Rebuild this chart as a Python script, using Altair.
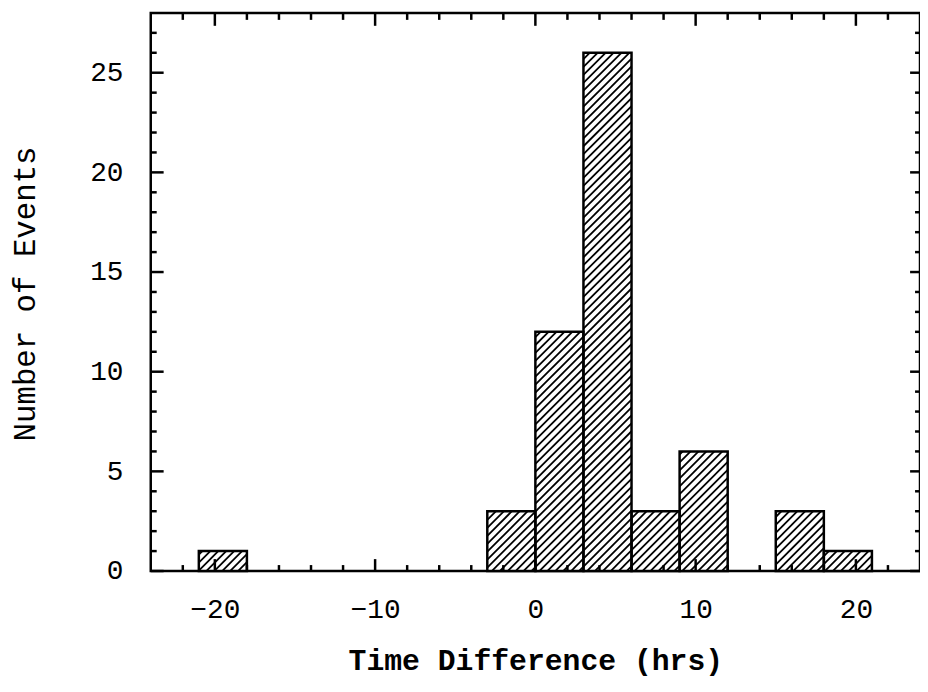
import altair as alt
import pandas as pd

# ---- data ----
bin_start = [-21, -3, 0, 3, 6, 9, 15, 18]
bin_end = [-18, 0, 3, 6, 9, 12, 18, 21]
counts = [1, 3, 12, 26, 3, 6, 3, 1]

x_major = [-20, -10, 0, 10, 20]
x_minor = [-22, -18, -16, -14, -12, -8, -6, -4, -2, 2, 4, 6, 8, 12, 14, 16, 18, 22]
y_major = [0, 5, 10, 15, 20, 25]
y_minor = [1, 2, 3, 4, 6, 7, 8, 9, 11, 12, 13, 14, 16, 17, 18, 19, 21, 22, 23, 24, 26, 27]

X_DOMAIN = [-24, 24]
Y_DOMAIN = [0, 28]
W, H = 776, 563
FONT = "Liberation Mono"

bars = pd.DataFrame({"x0": bin_start, "x1": bin_end, "n": counts})

# ---- hatch segments (45 degree lines clipped to each bar), derived from bar data ----
kx = W / (X_DOMAIN[1] - X_DOMAIN[0])
ky = H / (Y_DOMAIN[1] - Y_DOMAIN[0])
step = 8.0
rows = []
for x0, x1, n in zip(bin_start, bin_end, counts):
    px0 = (x0 - X_DOMAIN[0]) * kx
    px1 = (x1 - X_DOMAIN[0]) * kx
    py1 = n * ky
    k = int((px0 - py1) // step) - 1
    while k * step <= px1 + step:
        c = k * step
        lo = max(px0, c)
        hi = min(px1, c + py1)
        if hi - lo > 0.5:
            rows.append({
                "hx0": lo / kx + X_DOMAIN[0], "hy0": (lo - c) / ky,
                "hx1": hi / kx + X_DOMAIN[0], "hy1": (hi - c) / ky,
            })
        k += 1
hatch = pd.DataFrame(rows)

xs = alt.Scale(domain=X_DOMAIN, nice=False, zero=False)
ys = alt.Scale(domain=Y_DOMAIN, nice=False, zero=False)

x_axis = alt.Axis(
    values=x_major, ticks=False, domain=False, grid=False,
    labelFont=FONT, labelFontSize=28, labelColor="black", labelPadding=25,
    title="Time Difference (hrs)", titleFont=FONT, titleFontSize=30,
    titleFontWeight="bold", titleColor="black", titleY=99,
    titleBaseline="alphabetic",
)
y_axis = alt.Axis(
    values=y_major, ticks=False, domain=False, grid=False,
    labelFont=FONT, labelFontSize=28, labelColor="black", labelPadding=28,
    title="Number of Events", titleFont=FONT, titleFontSize=31,
    titleFontWeight="normal", titleColor="black", titleX=-126, titleY=283,
    titleBaseline="middle",
)

base_bars = alt.Chart(bars).mark_rect(fill="white", stroke=None).encode(
    x=alt.X("x0:Q", scale=xs, axis=x_axis),
    x2="x1:Q",
    y=alt.Y("n:Q", scale=ys, axis=y_axis),
    y2=alt.datum(0),
)

hatch_layer = alt.Chart(hatch).mark_rule(color="black", strokeWidth=1.8).encode(
    x=alt.X("hx0:Q", scale=xs), x2="hx1:Q",
    y=alt.Y("hy0:Q", scale=ys), y2="hy1:Q",
)

outline = alt.Chart(bars).mark_rect(fill=None, stroke="black", strokeWidth=2.5).encode(
    x=alt.X("x0:Q", scale=xs), x2="x1:Q",
    y=alt.Y("n:Q", scale=ys), y2=alt.datum(0),
)

xmaj = pd.DataFrame({"v": x_major})
xmin = pd.DataFrame({"v": x_minor})
ymaj = pd.DataFrame({"v": y_major})
ymin = pd.DataFrame({"v": y_minor})


def xticks(df, y0, y1, w):
    return alt.Chart(df).mark_rule(color="black", strokeWidth=w).encode(
        x=alt.X("v:Q", scale=xs), y=alt.value(y0), y2=alt.value(y1)
    )


def yticks(df, x0, x1, w):
    return alt.Chart(df).mark_rule(color="black", strokeWidth=w).encode(
        y=alt.Y("v:Q", scale=ys), x=alt.value(x0), x2=alt.value(x1)
    )


ticks = [
    xticks(xmaj, H, H - 12, 2.5), xticks(xmin, H, H - 6, 2.5),
    xticks(xmaj, 0, 13, 2.5), xticks(xmin, 0, 7, 2.5),
    yticks(ymaj, 0, 13, 2.5), yticks(ymin, 0, 6, 2.5),
    yticks(ymaj, W, W - 10, 2.5), yticks(ymin, W, W - 5, 2.5),
]

chart = alt.layer(base_bars, hatch_layer, outline, *ticks).properties(
    width=W, height=H,
    autosize=alt.AutoSizeParams(type="none"),
    padding={"left": 144, "top": 2, "right": 0, "bottom": 110},
    background="white",
).configure_view(stroke="black", strokeWidth=2.5)

chart.save("out.html", embed_options={"renderer": "svg", "actions": False})
